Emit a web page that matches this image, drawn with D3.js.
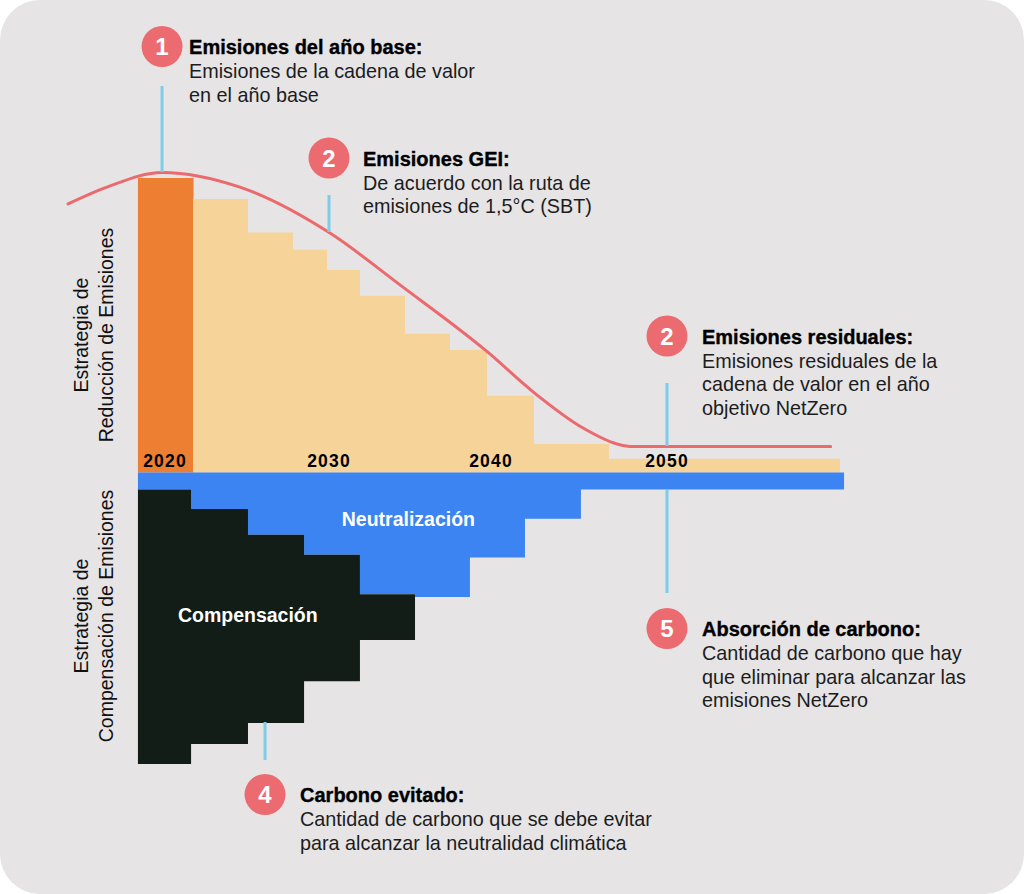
<!DOCTYPE html>
<html>
<head>
<meta charset="utf-8">
<script src="https://cdn.jsdelivr.net/npm/d3@7"></script>
<style>
  html, body { margin: 0; padding: 0; background: #ffffff; }
  svg { display: block; }
  text { font-family: "Liberation Sans", Arial, sans-serif; }
</style>
</head>
<body>
<svg id="chart" width="1024" height="894"></svg>
<script>
// ---------- DATA ----------
const tickYears = [2020, 2030, 2040, 2050];
const tickLabels = ["2020", "2030", "2040", "2050"];

// Emissions (reduction) bars: year edges and heights (base year = 100)
const emisEdges  = [2018.35, 2021.71, 2025.06, 2027.80, 2029.88, 2031.91, 2034.69, 2037.47, 2039.75, 2042.44, 2046.70, 2059.83];
const emisValues = [100, 92.9, 81.5, 75.6, 68.8, 60.0, 47.1, 41.6, 26.1, 9.7, 4.7];

// Compensation side: year edges, neutralization depth and total depth
const offsetEdges   = [2018.35, 2021.59, 2025.06, 2028.48, 2031.91, 2035.31, 2038.70, 2041.93, 2045.11, 2060.06];
const neutralDepth  = [5.8, 12.4, 21.1, 27.9, 41.3, 42.3, 28.9, 15.7, 5.8];
const totalDepth    = [99.0, 92.2, 85.1, 70.9, 56.9, 42.3, 28.9, 15.7, 5.8];

// 1.5°C pathway curve
const curveYears  = [2014.09, 2016.46, 2019.82, 2024.57, 2030.06, 2034.38, 2039.75, 2042.39, 2045.23, 2047.16, 2048.07, 2051.9, 2059.3];
const curveValues = [91.2, 96.9, 101.9, 96.9, 81.3, 63.7, 41.1, 27.4, 15.1, 9.7, 8.8, 8.8, 8.8];

// Annotations
const annNumbers = ["1", "2", "2", "5", "4"];
const annTitles  = ["Emisiones del año base:", "Emisiones GEI:", "Emisiones residuales:", "Absorción de carbono:", "Carbono evitado:"];
const annLines   = [
  ["Emisiones de la cadena de valor", "en el año base"],
  ["De acuerdo con la ruta de", "emisiones de 1,5°C (SBT)"],
  ["Emisiones residuales de la", "cadena de valor en el año", "objetivo NetZero"],
  ["Cantidad de carbono que hay", "que eliminar para alcanzar las", "emisiones NetZero"],
  ["Cantidad de carbono que se debe evitar", "para alcanzar la neutralidad climática"]
];
const annYears   = [2019.82, 2030, 2050, 2050, 2026.1];

// Side labels
const sideLabels = [
  ["Estrategia de", "Reducción de Emisiones"],
  ["Estrategia de", "Compensación de Emisiones"]
];
const areaLabels = ["Neutralización", "Compensación"];
const areaLabelYears = [2034.9, 2025.05];

// ---------- LAYOUT / STYLE ----------
const C = {
  bg: "#e6e4e5", orange: "#ec7f32", beige: "#f6d398", blue: "#3c84f1",
  dark: "#111d16", red: "#ea6a6e", circle: "#eb6b70", leader: "#7dcde8"
};

const svg = d3.select("#chart");
const W = 1024, H = 894;

svg.append("rect").attr("x", 0).attr("y", 0).attr("width", W).attr("height", H)
  .attr("rx", 40).attr("ry", 40).attr("fill", C.bg);

// scales
const x = d3.scaleLinear().domain(tickYears).range([165, 329, 491, 667]);
const yUp = d3.scaleLinear().domain([0, 100]).range([472.5, 178]);
const yDown = d3.scaleLinear().domain([0, 100]).range([472.5, 767]);

// emissions: base year bar (orange) + stepped area for the following years (beige)
svg.append("rect")
  .attr("x", x(emisEdges[0]))
  .attr("width", x(emisEdges[1]) - x(emisEdges[0]) + 0.5)
  .attr("y", yUp(emisValues[0]))
  .attr("height", yUp(0) - yUp(emisValues[0]))
  .attr("fill", C.orange);

const beigePts = emisValues.slice(1).map((v, i) => ({ yr: emisEdges[i + 1], v }));
beigePts.push({ yr: emisEdges[emisEdges.length - 1], v: emisValues[emisValues.length - 1] });
svg.append("path").datum(beigePts)
  .attr("d", d3.area().x(d => x(d.yr)).y0(yUp(0)).y1(d => yUp(d.v)).curve(d3.curveStepAfter))
  .attr("fill", C.beige);

// neutralization (blue) stepped area
const bluePts = neutralDepth.map((n, i) => ({ yr: offsetEdges[i], n }));
bluePts.push({ yr: offsetEdges[offsetEdges.length - 1], n: neutralDepth[neutralDepth.length - 1] });
svg.append("path").datum(bluePts)
  .attr("d", d3.area().x(d => x(d.yr)).y0(yDown(0)).y1(d => yDown(d.n)).curve(d3.curveStepAfter))
  .attr("fill", C.blue);

// compensation (dark) stepped area where total depth exceeds neutralization
const darkIdx = totalDepth.map((t, i) => i).filter(i => totalDepth[i] > neutralDepth[i]);
const darkPts = darkIdx.map(i => ({ yr: offsetEdges[i], n: neutralDepth[i], t: totalDepth[i] }));
const lastD = darkIdx[darkIdx.length - 1];
darkPts.push({ yr: offsetEdges[lastD + 1], n: neutralDepth[lastD], t: totalDepth[lastD] });
svg.append("path").datum(darkPts)
  .attr("d", d3.area().x(d => x(d.yr)).y0(d => yDown(d.n)).y1(d => yDown(d.t)).curve(d3.curveStepAfter))
  .attr("fill", C.dark);

// tick labels
svg.append("g").selectAll("text").data(tickYears).join("text")
  .attr("x", d => x(d)).attr("y", 467)
  .attr("text-anchor", "middle")
  .attr("font-size", 17.5).attr("font-weight", 700).attr("letter-spacing", 1.2)
  .attr("fill", "#000")
  .text((d, i) => tickLabels[i]);

// area labels
svg.append("text").attr("x", x(areaLabelYears[0])).attr("y", 526)
  .attr("text-anchor", "middle").attr("font-size", 19.5).attr("font-weight", 700)
  .attr("fill", "#fff").text(areaLabels[0]);
svg.append("text").attr("x", x(areaLabelYears[1])).attr("y", 622)
  .attr("text-anchor", "middle").attr("font-size", 19.5).attr("font-weight", 700)
  .attr("fill", "#fff").text(areaLabels[1]);

// curve
const curvePts = curveYears.map((yr, i) => ({ yr, v: curveValues[i] }));
svg.append("path").datum(curvePts)
  .attr("d", d3.line().x(d => x(d.yr)).y(d => yUp(d.v)).curve(d3.curveMonotoneX))
  .attr("fill", "none").attr("stroke", C.red).attr("stroke-width", 3).attr("stroke-linecap", "round");

// side labels
const sideCenters = [[88, 113, 335], [88, 113, 616]];
sideLabels.forEach((lines, k) => {
  const [bx1, bx2, cy] = sideCenters[k];
  lines.forEach((t, j) => {
    const bx = j === 0 ? bx1 : bx2;
    svg.append("text")
      .attr("transform", `translate(${bx},${cy}) rotate(-90)`)
      .attr("text-anchor", "middle").attr("font-size", 19.5)
      .attr("fill", "#111").text(t);
  });
});

// annotations
const annLayout = [
  { cy: 46.5, ly0: 86, ly1: 172, dx: 27 },
  { cy: 158, ly0: 195, ly1: 232, dx: 34 },
  { cy: 336, ly0: 383, ly1: 446, dx: 35 },
  { cy: 628.5, ly0: 490, ly1: 593, dx: 35 },
  { cy: 794.5, ly0: 722, ly1: 760, dx: 35 }
];
annTitles.forEach((title, i) => {
  const cx = x(annYears[i]);
  const L = annLayout[i];
  const g = svg.append("g");
  g.append("line").attr("x1", cx).attr("x2", cx).attr("y1", L.ly0).attr("y2", L.ly1)
    .attr("stroke", C.leader).attr("stroke-width", 3);
  g.append("circle").attr("cx", cx).attr("cy", L.cy).attr("r", 20.5).attr("fill", C.circle);
  g.append("text").attr("x", cx).attr("y", L.cy + 8.5).attr("text-anchor", "middle")
    .attr("font-size", 24).attr("font-weight", 700).attr("fill", "#fff").text(annNumbers[i]);
  const tx = cx + L.dx;
  g.append("text").attr("x", tx).attr("y", L.cy + 7.5)
    .attr("font-size", 20).attr("font-weight", 700).attr("fill", "#000")
    .attr("stroke", "#000").attr("stroke-width", 0.35).text(title);
  annLines[i].forEach((t, j) => {
    g.append("text").attr("x", tx).attr("y", L.cy + 7.5 + 24 + j * 23.5)
      .attr("font-size", 19.8).attr("fill", "#1c1c1c").text(t);
  });
});
</script>
</body>
</html>
